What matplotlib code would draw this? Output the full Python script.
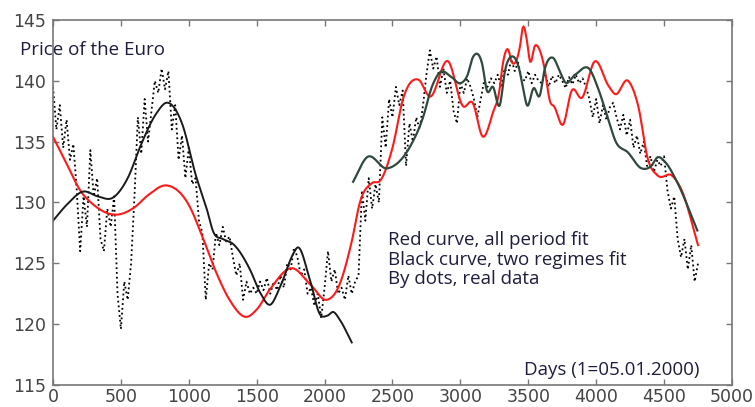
import numpy as np
import matplotlib.pyplot as plt

# real data, read every 25 days (1=05.01.2000)
real_days = np.arange(0, 4751, 25)
real_price = [
    139.5, 136.0, 138.0, 134.5, 136.8, 133.5, 134.8, 131.0, 126.0, 130.5,
    128.0, 134.3, 130.5, 132.0, 127.0, 126.0, 129.5, 128.0, 130.5, 122.5,
    119.6, 123.5, 122.0, 125.0, 130.5, 137.0, 134.0, 138.5, 135.0, 137.5,
    140.0, 139.0, 141.0, 139.3, 140.8, 136.0, 138.0, 133.5, 135.5, 132.0,
    134.5, 131.5, 132.0, 128.5, 127.5, 122.0, 125.0, 124.5, 127.5, 126.5,
    128.0, 126.8, 127.2, 125.5, 124.0, 125.0, 122.0, 123.5, 122.5, 123.0,
    122.5, 123.5, 122.8, 123.8, 122.5, 123.5, 122.8, 124.0, 123.0, 125.0,
    124.5, 126.3, 125.5, 124.0, 124.5, 122.5, 123.0, 121.5, 122.5, 120.5,
    123.0, 126.0, 123.5, 124.5, 122.5, 123.0, 122.0, 124.0, 122.5, 123.5,
    124.0, 131.0, 128.5, 132.0, 129.5, 131.5, 130.0, 137.0, 134.5, 138.5,
    137.0, 139.5, 138.0, 139.2, 133.0, 136.5, 135.0, 137.0, 136.0, 138.0,
    140.5, 142.5, 141.0, 142.0, 139.5, 141.0, 139.0, 140.0, 137.5, 136.5,
    139.8, 139.0, 140.2, 139.5, 138.5, 137.0, 138.5, 140.0, 139.5, 140.2,
    139.8, 140.5, 139.5, 141.0, 140.5, 141.8, 140.8, 141.5, 140.2, 140.0,
    140.8, 139.8, 140.5, 140.0, 139.8, 140.6, 139.5, 140.4, 139.8, 140.5,
    140.0, 139.4, 140.3, 139.7, 140.5, 139.8, 140.2, 139.5, 138.5, 137.0,
    138.5, 136.5, 138.0, 136.8, 137.8, 138.2, 137.0, 136.0, 137.2, 135.5,
    136.8, 134.5, 135.5, 134.0, 135.0, 133.0, 133.8, 132.5, 133.5, 133.0,
    133.8, 131.0, 129.5, 130.5, 127.0, 125.5, 127.0, 124.5, 126.5, 123.5,
    125.0,
]

# red curve, all period fit
red_days = [0, 100, 200, 300, 470, 600, 700, 838, 1000, 1100, 1200, 1300,
            1426, 1500, 1600, 1760, 1900, 2015, 2100, 2200, 2260, 2350, 2410,
            2500, 2580, 2690, 2776, 2910, 3020, 3090, 3166, 3240, 3290, 3306,
            3350, 3380, 3440, 3460, 3490, 3512, 3550, 3585, 3620, 3660, 3690,
            3756, 3820, 3895, 3990, 4090, 4140, 4235, 4310, 4380, 4455, 4560,
            4630, 4750]
red_price = [135.4, 133.2, 131.0, 129.8, 129.0, 129.6, 130.6, 131.4, 129.8,
             127.2, 124.3, 122.0, 120.6, 121.2, 122.9, 124.6, 123.2, 122.0,
             123.0, 126.8, 130.0, 131.6, 131.8, 134.5, 138.6, 140.1, 138.7,
             141.6, 137.9, 138.2, 135.4, 137.4, 139.4, 140.9, 142.6, 141.5,
             142.9, 144.4, 143.3, 141.6, 142.9, 142.5, 141.0, 138.3, 137.9,
             136.4, 139.2, 138.6, 141.6, 139.6, 138.9, 140.0, 137.9, 133.6,
             132.2, 132.2, 131.0, 126.5]

# black curve, two regimes fit: first regime
blk1_days = [0, 100, 223, 330, 442, 550, 650, 760, 839, 950, 1050, 1134,
             1180, 1250, 1325, 1450, 1525, 1600, 1670, 1770, 1800, 1893,
             1966, 2020, 2065, 2110, 2200]
blk1_price = [128.5, 129.8, 130.9, 130.5, 130.4, 132.0, 134.8, 137.3, 138.2,
              136.5, 132.3, 129.4, 127.6, 127.0, 126.6, 124.5, 122.6, 121.6,
              123.0, 125.8, 126.3, 123.6, 120.8, 120.7, 121.0, 120.4, 118.5]

# second regime
blk2_days = [2210, 2310, 2460, 2630, 2725, 2790, 2850, 2935, 3000, 3050, 3095,
             3160, 3195, 3240, 3290, 3330, 3380, 3430, 3460, 3490, 3540, 3585,
             3620, 3680, 3735, 3770, 3845, 3955, 4010, 4090, 4140, 4235, 4335,
             4405, 4450, 4510, 4595, 4745]
blk2_price = [131.7, 133.7, 132.8, 134.6, 137.0, 139.5, 140.7, 140.3, 139.8,
              140.4, 142.0, 141.4, 139.2, 139.5, 138.0, 140.9, 142.0, 141.1,
              139.5, 138.0, 139.4, 138.8, 140.9, 141.9, 140.7, 139.9, 140.5,
              140.9, 139.5, 136.8, 135.1, 134.1, 132.8, 133.0, 133.7, 133.3,
              131.7, 127.7]


def smooth(days, vals):
    # hermite curve through the read points, for drawing only
    xs = np.linspace(days[0], days[-1], 600)
    d = np.asarray(days, float)
    v = np.asarray(vals, float)
    m = np.gradient(v, d)
    ys = np.empty_like(xs)
    for i, x in enumerate(xs):
        k = min(np.searchsorted(d, x, side="right") - 1, len(d) - 2)
        h = d[k + 1] - d[k]
        t = (x - d[k]) / h
        h00 = 2 * t**3 - 3 * t**2 + 1
        h10 = t**3 - 2 * t**2 + t
        h01 = -2 * t**3 + 3 * t**2
        h11 = t**3 - t**2
        ys[i] = h00 * v[k] + h10 * h * m[k] + h01 * v[k + 1] + h11 * h * m[k + 1]
    return xs, ys


fig = plt.figure(figsize=(7.55, 4.07), dpi=100)
ax = fig.add_axes([0.0702, 0.054, 0.8993, 0.897])

ax.plot(real_days, real_price, color="black", linestyle=":", linewidth=1.3)
x, y = smooth(red_days, red_price)
ax.plot(x, y, color="#ff1a1a", linewidth=1.5)
x, y = smooth(blk1_days, blk1_price)
ax.plot(x, y, color="#1a1a1a", linewidth=1.4)
x, y = smooth(blk2_days, blk2_price)
ax.plot(x, y, color="#2f4a3c", linewidth=1.6)

ax.set_xlim(0, 5000)
ax.set_ylim(115, 145)
ax.set_xticks(np.arange(0, 5001, 500))
ax.set_yticks(np.arange(115, 146, 5))
ax.tick_params(direction="in", top=True, right=True, length=4, width=1,
               colors="#777777", labelcolor="#444444", labelsize=12.5, pad=5)
ax.tick_params(axis="x", pad=2)
for s in ax.spines.values():
    s.set_color("#777777")
    s.set_linewidth(1.2)

txt = dict(family=["Open Sans", "DejaVu Sans"], color="#1e1e3c", fontsize=13.5)
fig.text(20 / 755, 1 - 50 / 407, "Price of the Euro", va="center", ha="left", **txt)
ax.text(2465, 125.3, "Red curve, all period fit\nBlack curve, two regimes fit\nBy dots, real data",
        va="center", ha="left", linespacing=1.1, **txt)
ax.text(4760, 116.2, "Days (1=05.01.2000)", va="center", ha="right", **txt)

fig.savefig("out.png", dpi=100)
